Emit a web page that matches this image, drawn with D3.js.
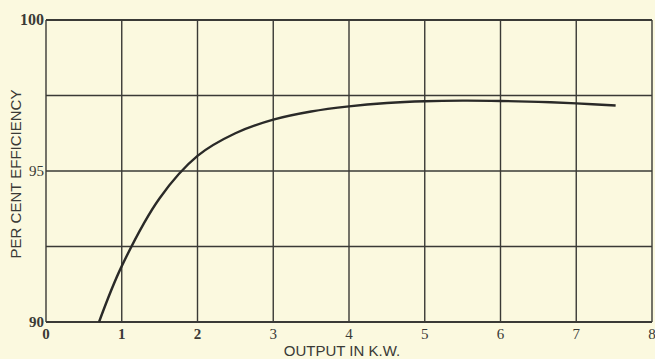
<!DOCTYPE html>
<html><head><meta charset="utf-8">
<script src="https://cdn.jsdelivr.net/npm/d3@7"></script>
<style>
html,body{margin:0;padding:0;background:#fbf9df;}
svg{display:block;}
</style></head>
<body>
<svg id="c" width="655" height="359"></svg>
<script>
const outputKW = [0.70, 1.0, 1.5, 2.0, 2.5, 3.0, 3.5, 4.0, 4.5, 5.0, 5.5, 6.0, 6.5, 7.0, 7.52];
const efficiency = [90.0, 91.85, 94.1, 95.5, 96.25, 96.7, 96.97, 97.14, 97.25, 97.31, 97.33, 97.32, 97.29, 97.24, 97.17];
const xTicks = [0,1,2,3,4,5,6,7,8];
const yGrid = [90, 92.5, 95, 97.5, 100];
const yLabels = [90, 95, 100];
const xTitle = "OUTPUT IN K.W.";
const yTitle = "PER CENT EFFICIENCY";

const svg = d3.select("#c");
const m = {l:46, r:652, t:20, b:322};
const x = d3.scaleLinear().domain([0,8]).range([m.l, m.r]);
const y = d3.scaleLinear().domain([90,100]).range([m.b, m.t]);
const ink = "#3a3a36";

// grid
svg.append("g").selectAll("line").data(xTicks).join("line")
  .attr("x1", d=>x(d)).attr("x2", d=>x(d)).attr("y1", m.t).attr("y2", m.b)
  .attr("stroke", ink).attr("stroke-width", 1.4);
svg.append("g").selectAll("line").data(yGrid).join("line")
  .attr("x1", m.l).attr("x2", m.r).attr("y1", d=>y(d)).attr("y2", d=>y(d))
  .attr("stroke", ink).attr("stroke-width", d=> (d===90||d===100)?1.8:1.4);

// curve
const line = d3.line().x((d,i)=>x(outputKW[i])).y(d=>y(d)).curve(d3.curveCatmullRom.alpha(0.5));
svg.append("path").datum(efficiency).attr("d", line)
  .attr("fill","none").attr("stroke","#2a2a28").attr("stroke-width",2.4);

// y labels
svg.append("g").selectAll("text").data(yLabels).join("text")
  .attr("x", m.l-2).attr("y", d=>y(d)+5)
  .attr("text-anchor","end")
  .attr("font-family","'Liberation Serif', 'DejaVu Serif', serif")
  .attr("font-weight", d=> d===95 ? "normal" : "bold")
  .attr("font-size", d=> d===100 ? 16 : 15)
  .attr("fill", ink)
  .text(d=>d);

// x labels
svg.append("g").selectAll("text").data(xTicks).join("text")
  .attr("x", d=>x(d)).attr("y", 339)
  .attr("text-anchor","middle")
  .attr("font-family","'Liberation Serif', 'DejaVu Serif', serif")
  .attr("font-weight", d=> d<=2 ? "bold" : "normal")
  .attr("font-size", 15)
  .attr("fill", ink)
  .text(d=>d);

// titles
svg.append("text").attr("x", 342).attr("y", 356)
  .attr("text-anchor","middle")
  .attr("font-family","'Liberation Sans', Arial, sans-serif")
  .attr("font-size", 15).attr("fill", ink).text(xTitle);
svg.append("text")
  .attr("transform","translate(21,174) rotate(-90)")
  .attr("text-anchor","middle")
  .attr("font-family","'Liberation Sans', Arial, sans-serif")
  .attr("font-size", 15).attr("fill", ink).text(yTitle);
</script>
</body></html>
